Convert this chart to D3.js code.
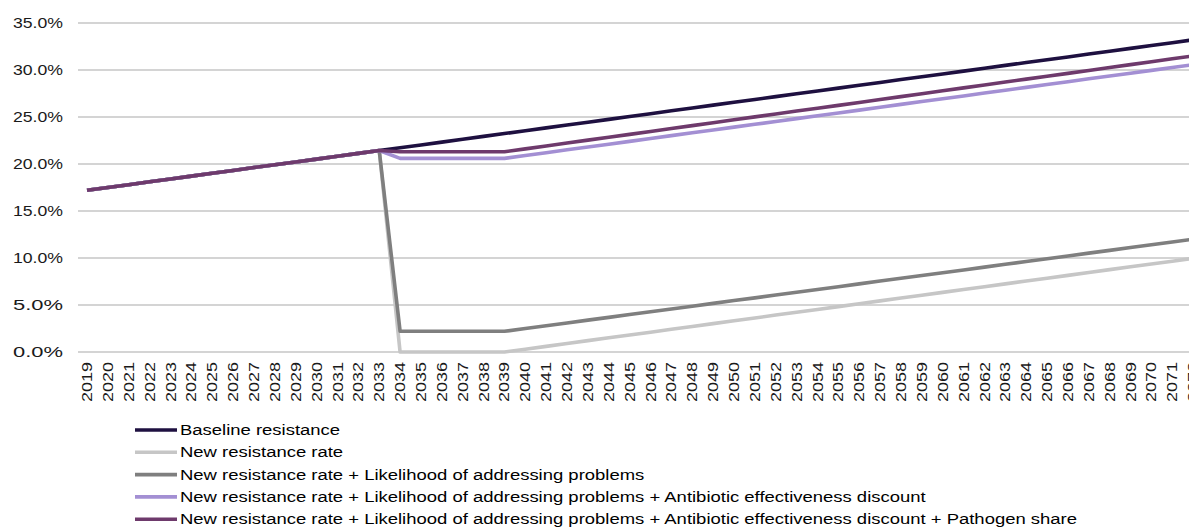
<!DOCTYPE html>
<html>
<head>
<meta charset="utf-8">
<script src="https://cdn.jsdelivr.net/npm/d3@7"></script>
<style>
html,body{margin:0;padding:0;background:#fff;overflow:hidden;}
svg{display:block;font-family:"Liberation Sans",Arial,sans-serif;}
</style>
</head>
<body>
<svg id="chart" width="1189" height="528"></svg>
<script>
// ---- data ----
const years = d3.range(2019, 2073).map(String);
const yTicks = [0, 5, 10, 15, 20, 25, 30, 35];
const seriesNames = [
  "Baseline resistance",
  "New resistance rate",
  "New resistance rate + Likelihood of addressing problems",
  "New resistance rate + Likelihood of addressing problems + Antibiotic effectiveness discount",
  "New resistance rate + Likelihood of addressing problems + Antibiotic effectiveness discount + Pathogen share"
];
const baseline = [17.20,17.50,17.80,18.11,18.41,18.71,19.01,19.31,19.62,19.92,20.22,20.52,20.82,21.13,21.43,21.73,22.03,22.33,22.64,22.94,
  23.24,23.54,23.84,24.15,24.45,24.75,25.05,25.35,25.66,25.96,26.26,26.56,26.86,27.17,27.47,27.77,28.07,28.37,28.68,28.98,
  29.28,29.58,29.88,30.19,30.49,30.79,31.09,31.39,31.70,32.00,32.30,32.60,32.90,33.21];
const newRate = [17.20,17.50,17.80,18.11,18.41,18.71,19.01,19.31,19.62,19.92,20.22,20.52,20.82,21.13,21.43,0,0,0,0,0,
  0,0.30,0.60,0.91,1.21,1.51,1.81,2.11,2.42,2.72,3.02,3.32,3.62,3.93,4.23,4.53,4.83,5.13,5.44,5.74,
  6.04,6.34,6.64,6.95,7.25,7.55,7.85,8.15,8.46,8.76,9.06,9.36,9.66,9.97];
const likelihood = [17.20,17.50,17.80,18.11,18.41,18.71,19.01,19.31,19.62,19.92,20.22,20.52,20.82,21.13,21.43,2.2,2.2,2.2,2.2,2.2,
  2.2,2.50,2.79,3.09,3.39,3.68,3.98,4.28,4.58,4.87,5.17,5.47,5.76,6.06,6.36,6.65,6.95,7.25,7.55,7.84,
  8.14,8.44,8.73,9.03,9.33,9.62,9.92,10.22,10.52,10.81,11.11,11.41,11.70,12.00];
const antibiotic = [17.20,17.50,17.80,18.11,18.41,18.71,19.01,19.31,19.62,19.92,20.22,20.52,20.82,21.13,21.43,20.6,20.6,20.6,20.6,20.6,
  20.6,20.90,21.20,21.51,21.81,22.11,22.41,22.71,23.02,23.32,23.62,23.92,24.22,24.53,24.83,25.13,25.43,25.73,26.04,26.34,
  26.64,26.94,27.24,27.55,27.85,28.15,28.45,28.75,29.06,29.36,29.66,29.96,30.26,30.57];
const pathogen = [17.20,17.50,17.80,18.11,18.41,18.71,19.01,19.31,19.62,19.92,20.22,20.52,20.82,21.13,21.43,21.3,21.3,21.3,21.3,21.3,
  21.3,21.61,21.92,22.23,22.54,22.85,23.15,23.46,23.77,24.08,24.39,24.70,25.01,25.32,25.63,25.94,26.24,26.55,26.86,27.17,
  27.48,27.79,28.10,28.41,28.72,29.03,29.33,29.64,29.95,30.26,30.57,30.88,31.19,31.50];
const seriesValues = [baseline, newRate, likelihood, antibiotic, pathogen];
const seriesColors = ["#1e1040", "#c6c6c6", "#7f7f7f", "#a38fd3", "#6e3a6c"];

// ---- layout ----
const svg = d3.select("#chart");
const plotLeft = 76.6, plotRight = 1203.6, plotTop = 23, plotBottom = 352;
const x = d3.scaleBand().domain(years).range([plotLeft, plotRight]);
const y = d3.scaleLinear().domain([0, 35]).range([plotBottom, plotTop]);

// gridlines
svg.append("g").selectAll("line").data(yTicks).join("line")
  .attr("x1", 78).attr("x2", 1189)
  .attr("y1", d => y(d)).attr("y2", d => y(d))
  .attr("stroke", "#d4d4d4").attr("stroke-width", 1.8);

// y labels
svg.append("g").selectAll("text").data(yTicks).join("text")
  .attr("x", 63).attr("y", d => y(d)).attr("dy", "0.36em")
  .attr("text-anchor", "end")
  .attr("font-size", 14).attr("fill", "#1a1a1a")
  .attr("textLength", 50).attr("lengthAdjust", "spacingAndGlyphs")
  .text(d => d.toFixed(1) + "%");

// x labels
svg.append("g").selectAll("text").data(years).join("text")
  .attr("transform", d => `translate(${x(d) + x.bandwidth() / 2},362) rotate(-90)`)
  .attr("dy", "0.36em")
  .attr("text-anchor", "end")
  .attr("font-size", 14).attr("fill", "#1a1a1a")
  .attr("textLength", 40).attr("lengthAdjust", "spacingAndGlyphs")
  .text(d => d);

// lines
const line = d3.line()
  .x((d, i) => x(years[i]) + x.bandwidth() / 2)
  .y(d => y(d));
svg.append("g").selectAll("path").data(seriesValues).join("path")
  .attr("d", d => line(d))
  .attr("fill", "none")
  .attr("stroke", (d, i) => seriesColors[i])
  .attr("stroke-width", 3.6)
  .attr("stroke-linejoin", "round");

// legend
const lg = svg.append("g");
const rows = lg.selectAll("g").data(seriesNames).join("g")
  .attr("transform", (d, i) => `translate(135,${430 + i * 22.3})`);
rows.append("line").attr("x1", 0).attr("x2", 42).attr("y1", 0).attr("y2", 0)
  .attr("stroke", (d, i) => seriesColors[i]).attr("stroke-width", 3.6);
const texts = rows.append("text").attr("x", 45).attr("dy", "0.36em")
  .attr("font-size", 14).attr("fill", "#000").text(d => d);
const longest = texts.nodes()[4].getComputedTextLength();
const k = 897 / longest;
texts.each(function() {
  const w = this.getComputedTextLength();
  d3.select(this).attr("textLength", w * k).attr("lengthAdjust", "spacingAndGlyphs");
});
</script>
</body>
</html>
